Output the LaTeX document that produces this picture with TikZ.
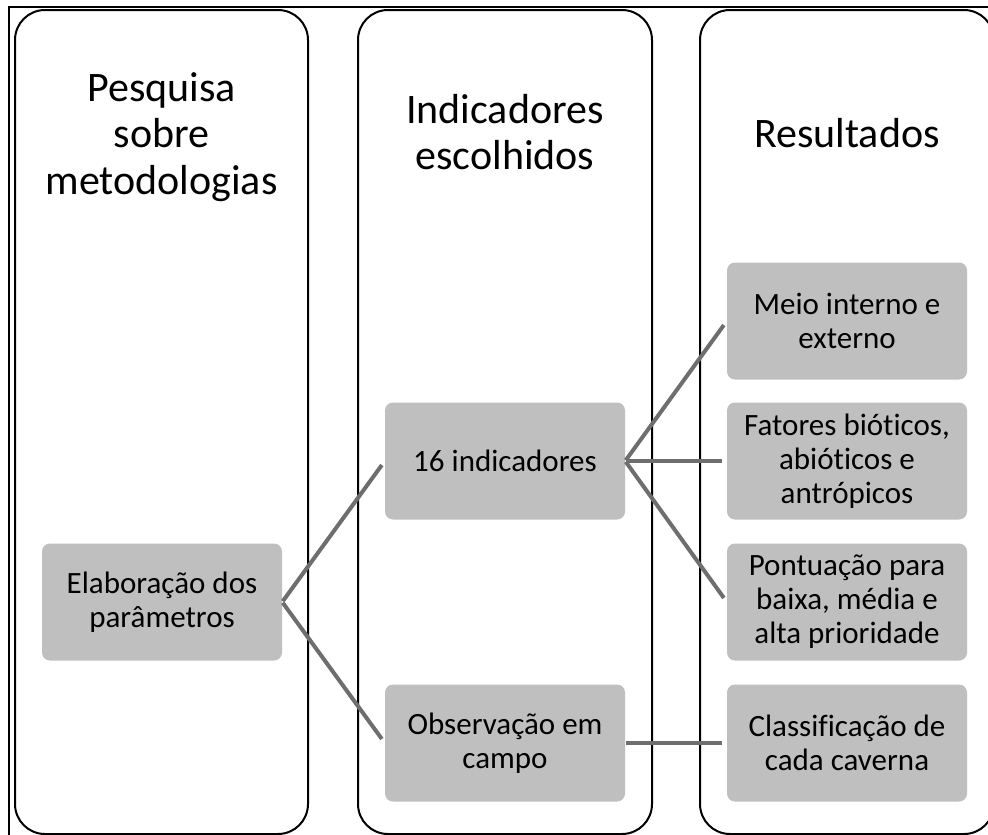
\documentclass[tikz,border=0pt]{standalone}
\usepackage{fontspec}
\setmainfont[Ligatures=NoCommon]{Carlito}
\definecolor{boxgrey}{HTML}{BFBFBF}
\definecolor{linegrey}{HTML}{6E6E6E}
\begin{document}
\begin{tikzpicture}[x=1pt,y=-1pt,
  colbox/.style={draw=black, line width=2pt, rounded corners=30pt},
  item/.style={fill=boxgrey, rounded corners=8pt, minimum width=240pt, minimum height=117pt, inner sep=0pt, align=center, font=\fontsize{31}{34}\selectfont},
  title/.style={align=center, font=\fontsize{42}{46.5}\selectfont, inner sep=0pt},
  conn/.style={draw=linegrey, line width=4pt, shorten <=1pt, shorten >=5pt}]
\useasboundingbox (0,0) rectangle (988,835);
\clip (0,0) rectangle (988,835);
\fill[white] (0,0) rectangle (988,835);
\draw[line width=1.5pt] (9,7) rectangle (1010,860);
\draw[colbox] (15,10) rectangle (308,834);
\draw[colbox] (358,10) rectangle (652,834);
\draw[colbox] (700,10) rectangle (994,834);
\node[title] (t1) at (161.5,137) {Pesquisa\\sobre\\metodologias};
\node[title] (t2) at (505,132) {Indicadores\\escolhidos};
\node[title, anchor=base] (t3) at (847,147) {Resultados};
\node[item] (elab) at (162,602) {Elaboração dos\\parâmetros};
\node[item] (ind) at (505,461) {16 indicadores};
\node[item] (obs) at (505,743) {Observação em\\campo};
\node[item] (meio) at (847,321) {Meio interno e\\externo};
\node[item] (fat) at (847,461) {Fatores bióticos,\\abióticos e\\antrópicos};
\node[item] (pont) at (847,602) {Pontuação para\\baixa, média e\\alta prioridade};
\node[item] (cls) at (847,743) {Classificação de\\cada caverna};
\draw[conn] (elab.east) -- (ind.west);
\draw[conn] (elab.east) -- (obs.west);
\draw[conn] (ind.east) -- (meio.west);
\draw[conn] (ind.east) -- (fat.west);
\draw[conn] (ind.east) -- (pont.west);
\draw[conn] (obs.east) -- (cls.west);
\end{tikzpicture}
\end{document}
